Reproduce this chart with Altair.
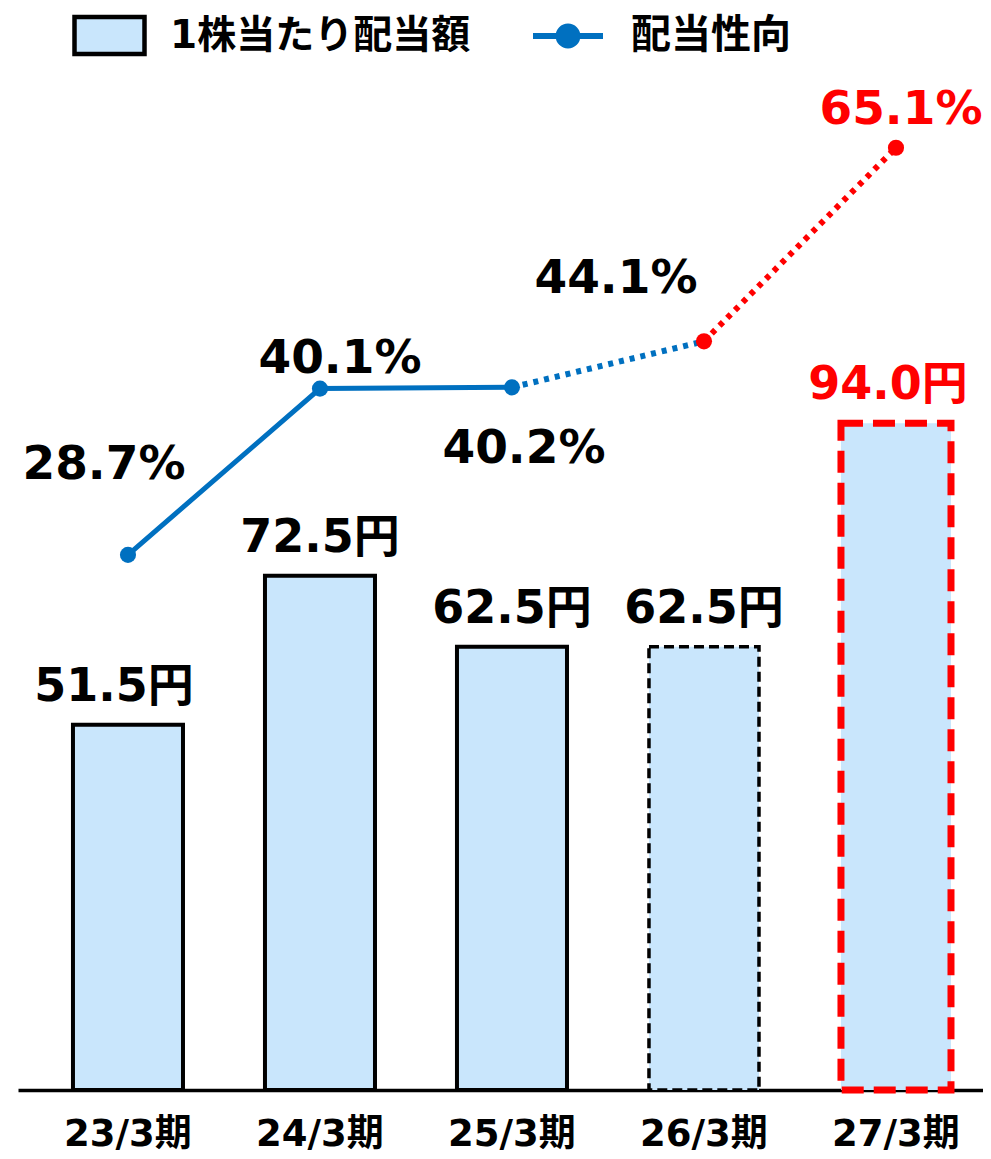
import altair as alt
import pandas as pd

periods = ["23/3期", "24/3期", "25/3期", "26/3期", "27/3期"]
dividends = [51.5, 72.5, 62.5, 62.5, 94.0]
payout = [28.7, 40.1, 40.2, 44.1, 65.1]
bar_series = "1株当たり配当額"
line_series = "配当性向"

BAR_FILL = "#C9E6FC"
BLUE = "#0070C0"
RED = "#FF0000"
NUM_FONT = 'DejaVu Sans, "Noto Sans CJK JP", sans-serif'

df = pd.DataFrame({"period": periods, "dividend": dividends, "payout": payout})
df["bar_series"] = bar_series
df["line_series"] = line_series


def in_periods(ps):
    return alt.FieldOneOfPredicate(field="period", oneOf=ps)


x_enc = alt.X(
    "period:N",
    sort=periods,
    title=None,
    scale=alt.Scale(paddingInner=0.427, paddingOuter=0.2265, align=0.632),
    axis=alt.Axis(
        labelAngle=0,
        labelFont=NUM_FONT,
        labelFontSize=37,
        labelFontWeight="bold",
        labelColor="black",
        labelPadding=26,
        ticks=False,
        tickSize=0,
        domainColor="black",
        domainWidth=3.5,
        grid=False,
    ),
)
y_bar = alt.Y("dividend:Q", scale=alt.Scale(domain=[0, 142.4], nice=False), axis=None)
y_line = alt.Y(
    "payout:Q",
    scale=alt.Scale(type="log", domain=[9.78, 74.6], nice=False),
    axis=None,
)

base = alt.Chart(df)

bar_legend = alt.Legend(
    title=None,
    orient="none",
    legendX=54,
    legendY=-82,
    padding=0,
    symbolType="M-1,-0.53H1V0.53H-1Z",
    symbolSize=4900,
    symbolFillColor=BAR_FILL,
    symbolStrokeColor="black",
    symbolStrokeWidth=4.5,
    labelFont=NUM_FONT,
    labelFontSize=39,
    labelFontWeight="bold",
    labelColor="black",
    labelOffset=23,
    labelLimit=500,
)
line_legend = alt.Legend(
    title=None,
    orient="none",
    legendX=512,
    legendY=-82,
    padding=0,
    symbolType="M-1,0H1M-0.27,0A0.27,0.27,0,1,1,0.27,0A0.27,0.27,0,1,1,-0.27,0Z",
    symbolSize=4900,
    symbolFillColor=BLUE,
    symbolStrokeColor=BLUE,
    symbolStrokeWidth=6,
    labelFont=NUM_FONT,
    labelFontSize=40,
    labelFontWeight="bold",
    labelColor="black",
    labelOffset=25,
    labelLimit=500,
)

bars_solid = (
    base.transform_filter(in_periods(periods[:3]))
    .mark_bar(stroke="black", strokeWidth=4)
    .encode(
        x=x_enc,
        y=y_bar,
        fill=alt.Fill(
            "bar_series:N",
            scale=alt.Scale(domain=[bar_series], range=[BAR_FILL]),
            legend=bar_legend,
        ),
    )
)
bar_dashed = (
    base.transform_filter(alt.datum.period == periods[3])
    .mark_bar(fill=BAR_FILL, stroke="black", strokeWidth=3.5, strokeDash=[10, 5])
    .encode(x=x_enc, y=y_bar)
)
bar_red = (
    base.transform_filter(alt.datum.period == periods[4])
    .mark_bar(fill=BAR_FILL, stroke=RED, strokeWidth=7, strokeDash=[22, 10])
    .encode(x=x_enc, y=y_bar)
)


def bar_label(period, dx, color):
    return (
        base.transform_filter(alt.datum.period == period)
        .transform_calculate(lbl="format(datum.dividend, '.1f') + '円'")
        .mark_text(
            font=NUM_FONT,
            fontSize=46,
            fontWeight="bold",
            baseline="middle",
            dx=dx,
            dy=-38,
            color=color,
        )
        .encode(x=x_enc, y=y_bar, text="lbl:N")
    )


bar_labels = [
    bar_label(periods[0], -14, "black"),
    bar_label(periods[1], 0, "black"),
    bar_label(periods[2], 0, "black"),
    bar_label(periods[3], 0, "black"),
    bar_label(periods[4], -8, RED),
]

line_a = (
    base.transform_filter(in_periods(periods[:3]))
    .mark_line(strokeWidth=5)
    .encode(
        x=x_enc,
        y=y_line,
        stroke=alt.Stroke(
            "line_series:N",
            scale=alt.Scale(domain=[line_series], range=[BLUE]),
            legend=line_legend,
        ),
    )
)
line_b = (
    base.transform_filter(in_periods(periods[2:4]))
    .mark_line(color=BLUE, strokeWidth=6, strokeDash=[5, 6])
    .encode(x=x_enc, y=y_line)
)
line_c = (
    base.transform_filter(in_periods(periods[3:]))
    .mark_line(color=RED, strokeWidth=6, strokeDash=[5, 6])
    .encode(x=x_enc, y=y_line)
)
points = base.mark_circle(size=260, opacity=1).encode(
    x=x_enc,
    y=y_line,
    color=alt.condition(in_periods(periods[3:]), alt.value(RED), alt.value(BLUE)),
)


def pct_label(period, dx, dy, color):
    return (
        base.transform_filter(alt.datum.period == period)
        .transform_calculate(lbl="format(datum.payout, '.1f') + '%'")
        .mark_text(
            font=NUM_FONT,
            fontSize=47,
            fontWeight="bold",
            baseline="middle",
            dx=dx,
            dy=dy,
            color=color,
        )
        .encode(x=x_enc, y=y_line, text="lbl:N")
    )


labels = [
    pct_label(periods[0], -24, -90, "black"),
    pct_label(periods[1], 20, -30, "black"),
    pct_label(periods[2], 12, 62, "black"),
    pct_label(periods[3], -88, -62, "black"),
    pct_label(periods[4], 5, -38, RED),
]

bar_layer = alt.layer(bars_solid, bar_dashed, bar_red, *bar_labels)
line_layer = alt.layer(line_a, line_b, line_c, points, *labels)

chart = (
    alt.layer(bar_layer, line_layer)
    .resolve_scale(y="independent")
    .properties(
        width=965,
        height=1010,
        padding={"left": 10, "top": 72, "right": 0, "bottom": 68},
        autosize=alt.AutoSizeParams(type="none"),
        background="white",
    )
    .configure_view(stroke=None)
)

chart.save("out.html", embed_options={"renderer": "svg", "actions": False})
